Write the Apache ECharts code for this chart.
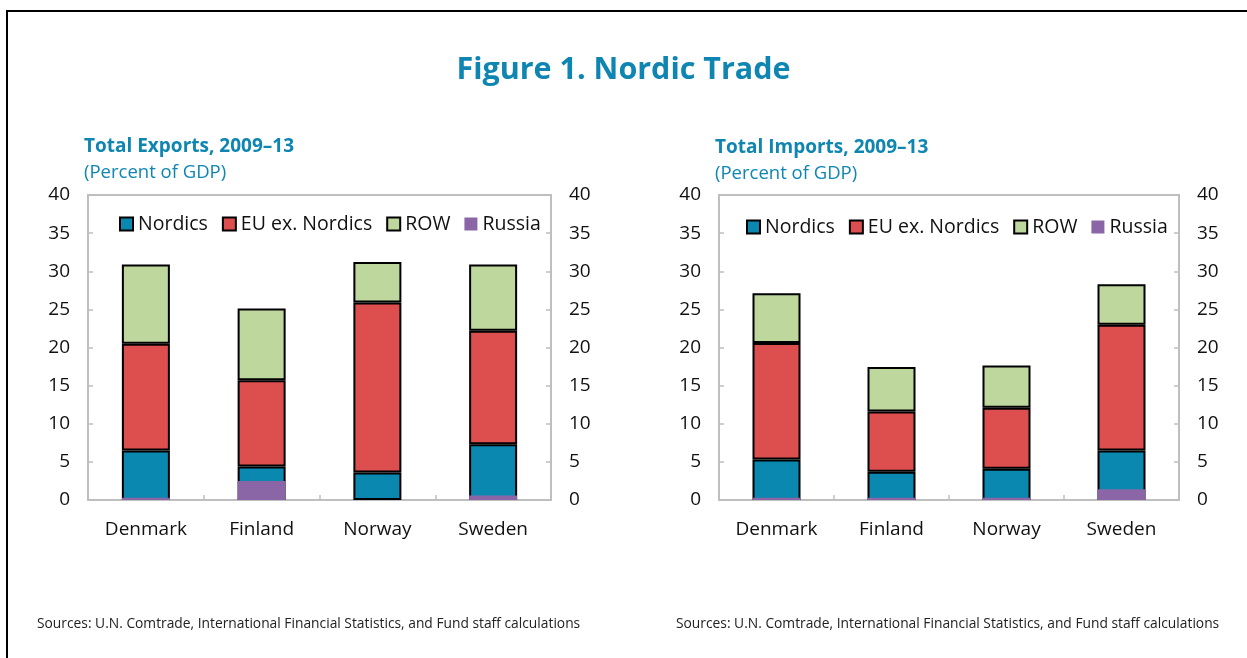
<!DOCTYPE html>
<html>
<head>
<meta charset="utf-8">
<script src="https://cdn.jsdelivr.net/npm/echarts@6/dist/echarts.min.js"></script>
<style>
  html, body { margin: 0; padding: 0; background: #fff; }
  #main { width: 1247px; height: 658px; }
</style>
</head>
<body>
<div id="main"></div>
<script>
// categories and values (percent of GDP)
var countries = ["Denmark", "Finland", "Norway", "Sweden"];
var seriesNames = ["Nordics", "EU ex. Nordics", "ROW", "Russia"];
var yTicks = [0, 5, 10, 15, 20, 25, 30, 35, 40];

var expNordics = [6.5, 4.4, 3.6, 7.3];
var expEU = [14.0, 11.3, 22.3, 14.9];
var expROW = [10.4, 9.4, 5.3, 8.7];
var expRussia = [0.3, 2.5, 0, 0.6];

var impNordics = [5.3, 3.7, 4.1, 6.5];
var impEU = [15.3, 7.9, 8.0, 16.5];
var impROW = [6.5, 5.85, 5.55, 5.3];
var impRussia = [0.3, 0.3, 0.3, 1.4];

var sourceNote = "Sources: U.N. Comtrade, International Financial Statistics, and Fund staff calculations";

var FONT = "Open Sans";
var BLUE = "#0f86b2";
var GREY = "#bfbfbf";
var colors = {
    "Nordics": "#0a88b0",
    "EU ex. Nordics": "#dd4f4f",
    "ROW": "#bdd79c",
    "Russia": "#8b66a7"
};

var myChart = echarts.init(document.getElementById("main"));

function yAxisFor(grid, pos) {
    return {
        type: "value",
        gridIndex: grid,
        position: pos,
        min: yTicks[0],
        max: yTicks[yTicks.length - 1],
        interval: 5,
        axisLine: { show: true, lineStyle: { color: GREY, width: 2 } },
        axisTick: { show: true, inside: true, length: 5, lineStyle: { color: GREY, width: 1.5 } },
        splitLine: { show: false },
        axisLabel: { color: "#111", fontSize: 19, fontFamily: FONT, margin: 18 }
    };
}

function barsFor(grid, yIdx, nordics, eu, row, russia) {
    var stackName = "s" + grid;
    var border = { borderColor: "#000", borderWidth: 2 };
    var out = [];
    [["Nordics", nordics], ["EU ex. Nordics", eu], ["ROW", row]].forEach(function (p) {
        out.push({
            name: p[0],
            type: "bar",
            xAxisIndex: grid,
            yAxisIndex: yIdx,
            stack: stackName,
            barWidth: 48,
            data: p[1],
            itemStyle: Object.assign({ color: colors[p[0]] }, border)
        });
    });
    // Russia drawn over the base of the bar, no outline
    out.push({
        name: "Russia",
        type: "bar",
        xAxisIndex: grid,
        yAxisIndex: yIdx,
        barWidth: 48,
        barGap: "-100%",
        z: 3,
        data: russia,
        itemStyle: { color: colors["Russia"], borderWidth: 0 }
    });
    return out;
}

function legendFor(left, top) {
    return {
        left: left,
        top: top,
        data: seriesNames,
        icon: "rect",
        itemWidth: 13,
        itemHeight: 13,
        itemGap: 14,
        selectedMode: false,
        textStyle: { fontSize: 19.5, fontFamily: FONT, color: "#111" }
    };
}

myChart.setOption({
    animation: false,
    title: [
        {
            text: "Figure 1. Nordic Trade",
            left: "center",
            top: 50,
            textStyle: { color: BLUE, fontSize: 30.5, fontWeight: "bold", fontFamily: FONT }
        },
        {
            text: "Total Exports, 2009\u201313",
            left: 79, top: 132,
            textStyle: { color: BLUE, fontSize: 19, fontWeight: "bold", fontFamily: FONT }
        },
        {
            text: "(Percent of GDP)",
            left: 79, top: 158,
            textStyle: { color: BLUE, fontSize: 18.5, fontWeight: "normal", fontFamily: FONT }
        },
        {
            text: "Total Imports, 2009\u201313",
            left: 710, top: 133,
            textStyle: { color: BLUE, fontSize: 19, fontWeight: "bold", fontFamily: FONT }
        },
        {
            text: "(Percent of GDP)",
            left: 710, top: 159,
            textStyle: { color: BLUE, fontSize: 18.5, fontWeight: "normal", fontFamily: FONT }
        },
        {
            text: sourceNote,
            left: 32, top: 612,
            textStyle: { color: "#222", fontSize: 13.8, fontWeight: "normal", fontFamily: FONT }
        },
        {
            text: sourceNote,
            left: 671, top: 612,
            textStyle: { color: "#222", fontSize: 13.8, fontWeight: "normal", fontFamily: FONT }
        }
    ],
    legend: [legendFor(114, 209), legendFor(741, 212)],
    grid: [
        { left: 88, right: 696, top: 195, bottom: 158, show: true, borderColor: GREY, borderWidth: 2, backgroundColor: "transparent" },
        { left: 719, right: 68, top: 195, bottom: 158, show: true, borderColor: GREY, borderWidth: 2, backgroundColor: "transparent" }
    ],
    xAxis: [0, 1].map(function (g) {
        return {
            type: "category",
            gridIndex: g,
            data: countries,
            axisLine: { show: true, lineStyle: { color: GREY, width: 2 } },
            axisTick: { show: true, inside: true, length: 5, lineStyle: { color: GREY, width: 1.5 } },
            axisLabel: { color: "#111", fontSize: 19, fontFamily: FONT, margin: 20 }
        };
    }),
    yAxis: [yAxisFor(0, "left"), yAxisFor(0, "right"), yAxisFor(1, "left"), yAxisFor(1, "right")],
    graphic: [
        {
            type: "rect",
            shape: { x: 7, y: 11, width: 1400, height: 900 },
            style: { fill: "none", stroke: "#000", lineWidth: 2 },
            silent: true
        }
    ],
    series: barsFor(0, 0, expNordics, expEU, expROW, expRussia)
        .concat(barsFor(1, 2, impNordics, impEU, impROW, impRussia))
});
</script>
</body>
</html>
